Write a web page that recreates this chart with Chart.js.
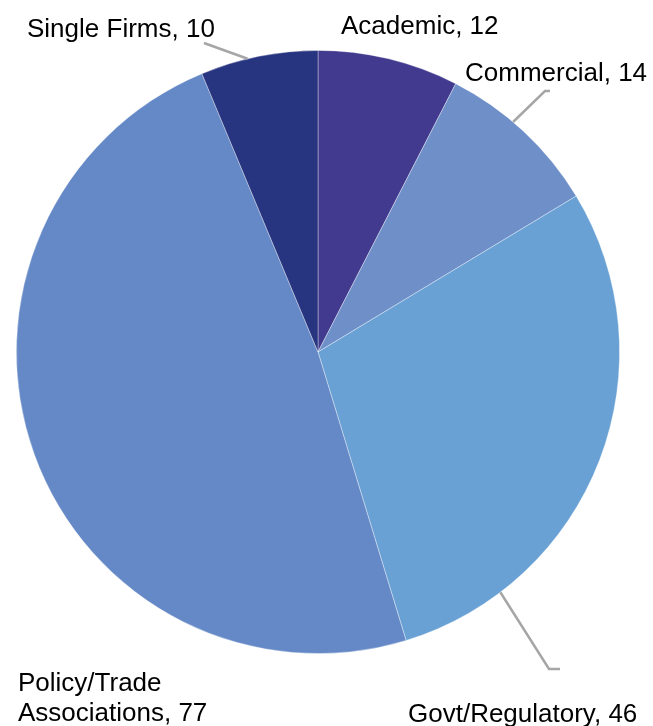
<!DOCTYPE html>
<html>
<head>
<meta charset="utf-8">
<script src="https://cdn.jsdelivr.net/npm/chart.js@4"></script>
<style>
  html, body { margin: 0; padding: 0; background: #fff; }
  #wrap { width: 653px; height: 726px; position: relative; }
</style>
</head>
<body>
<div id="wrap"><canvas id="pie"></canvas></div>
<script>
  // Data
  var categories = ["Academic", "Commercial", "Govt/Regulatory", "Policy/Trade Associations", "Single Firms"];
  var counts = [12, 14, 46, 77, 10];
  var sliceColors = ["#423a8e", "#6f8fc9", "#6aa1d5", "#6489c6", "#27347f"];

  // label placement (left x, baselines) and leader lines; start = angle on rim (deg from top)
  var labelLayout = [
    { lines: ["Academic, 12"], x: 341, y: [34] },
    { lines: ["Commercial, 14"], x: 465, y: [81], leader: { start: 40.3, pts: [[545, 91], [550, 91]] } },
    { lines: ["Govt/Regulatory, 46"], x: 408, y: [722], leader: { start: 142.8, pts: [[549, 669], [560, 669]] } },
    { lines: ["Policy/Trade", "Associations, 77"], x: 18, y: [691, 721] },
    { lines: ["Single Firms, 10"], x: 27, y: [37], leader: { start: 346.5, pts: [[204, 43]] } }
  ];

  var labelsPlugin = {
    id: "pieLabels",
    afterDatasetsDraw: function (chart) {
      var ctx = chart.ctx;
      var meta = chart.getDatasetMeta(0);
      ctx.save();
      labelLayout.forEach(function (lab, i) {
        var arc = meta.data[i];
        if (lab.leader) {
          var a = (lab.leader.start - 90) * Math.PI / 180;
          var r = arc.outerRadius;
          ctx.beginPath();
          ctx.moveTo(arc.x + Math.cos(a) * r, arc.y + Math.sin(a) * r);
          lab.leader.pts.forEach(function (p) { ctx.lineTo(p[0], p[1]); });
          ctx.strokeStyle = "#a6a6a6";
          ctx.lineWidth = 2.5;
          ctx.stroke();
        }
        ctx.fillStyle = "#000";
        ctx.font = "26px 'Liberation Sans', Arial, sans-serif";
        ctx.textAlign = "left";
        ctx.textBaseline = "alphabetic";
        lab.lines.forEach(function (t, k) { ctx.fillText(t, lab.x, lab.y[k]); });
      });
      ctx.restore();
    }
  };

  new Chart(document.getElementById("pie").getContext("2d"), {
    type: "pie",
    data: {
      labels: categories,
      datasets: [{
        data: counts,
        backgroundColor: sliceColors,
        borderColor: "rgba(255,255,255,0.45)",
        borderWidth: 0.8
      }]
    },
    options: {
      responsive: true,
      maintainAspectRatio: false,
      animation: false,
      layout: { padding: { left: 16, right: 33, top: 50, bottom: 72 } },
      plugins: { legend: { display: false }, tooltip: { enabled: false } }
    },
    plugins: [labelsPlugin]
  });
</script>
</body>
</html>
